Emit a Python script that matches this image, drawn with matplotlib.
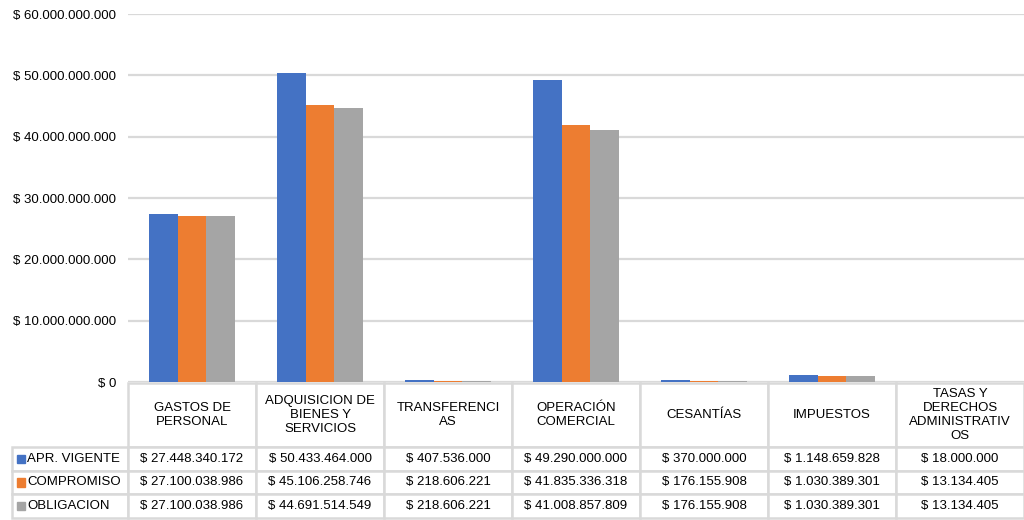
import numpy as np
import matplotlib
matplotlib.use("Agg")
import matplotlib.pyplot as plt
from matplotlib.table import Table
from matplotlib.patches import Rectangle
from matplotlib.ticker import FuncFormatter, MultipleLocator

plt.rcParams['font.family'] = ['Liberation Sans', 'DejaVu Sans']

categories = ["GASTOS DE\nPERSONAL", "ADQUISICION DE\nBIENES Y\nSERVICIOS",
              "TRANSFERENCI\nAS", "OPERACIÓN\nCOMERCIAL", "CESANTÍAS",
              "IMPUESTOS", "TASAS Y\nDERECHOS\nADMINISTRATIV\nOS"]
series_names = ["APR. VIGENTE", "COMPROMISO", "OBLIGACION"]
apr_vigente = [27448340172, 50433464000, 407536000, 49290000000, 370000000, 1148659828, 18000000]
compromiso = [27100038986, 45106258746, 218606221, 41835336318, 176155908, 1030389301, 13134405]
obligacion = [27100038986, 44691514549, 218606221, 41008857809, 176155908, 1030389301, 13134405]
series = [apr_vigente, compromiso, obligacion]
colors = ["#4472C4", "#ED7D31", "#A5A5A5"]


def money(v, pos=None):
    return "$ " + f"{int(round(v)):,}".replace(",", ".")


fig = plt.figure(figsize=(10.24, 5.2), dpi=100)
ax = fig.add_axes([128 / 1024, 1 - 382 / 520, 896 / 1024, 368 / 520])

n = len(categories)
x = np.arange(n)
w = 0.226
for i, vals in enumerate(series):
    ax.bar(x + (i - 1) * w, vals, width=w, color=colors[i], zorder=3)

ax.set_xlim(-0.5, n - 0.5)
ax.set_ylim(0, 60e9)
ax.yaxis.set_major_locator(MultipleLocator(10e9))
ax.yaxis.set_major_formatter(FuncFormatter(money))
ax.tick_params(axis='y', length=0, pad=8.6, labelsize=9.5)
ax.set_xticks([])
ax.grid(axis='y', color='#D9D9D9', linewidth=1.6, zorder=0)
for s in ax.spines.values():
    s.set_visible(False)

# data table under the chart (row labels hang left of the bbox)
axh = 368.0
lab_w = 116 / 896
col_w = 1.0 / n
head_h = 64 / axh
row_h = 23.5 / axh
tbl_h = head_h + row_h * len(series)
top = -1 / axh
tb = Table(ax, bbox=[0, top - tbl_h, 1, tbl_h])
for j, c in enumerate(categories):
    tb.add_cell(0, j, col_w, head_h, text=c, loc='center')
for i, name in enumerate(series_names):
    cell = tb.add_cell(i + 1, -1, lab_w, row_h, text=name, loc='left')
    cell.PAD = 15 / 116
    for j in range(n):
        tb.add_cell(i + 1, j, col_w, row_h, text=money(series[i][j]), loc='center')
tb.auto_set_font_size(False)
for key, cell in tb.get_celld().items():
    cell.set_edgecolor('#D9D9D9')
    cell.set_linewidth(1.8)
    cell.get_text().set_fontsize(9.5)
    cell.get_text().set_multialignment('center')
ax.add_table(tb)

# legend keys inside the row label cells
for i in range(len(series)):
    yc = top - head_h - row_h * (i + 0.5)
    sq_h = 8.5 / axh
    ax.add_patch(Rectangle((-lab_w + 5 / 896, yc - sq_h / 2), 8.5 / 896, sq_h,
                           transform=ax.transAxes, color=colors[i], clip_on=False))

fig.savefig("out.png", dpi=100)
